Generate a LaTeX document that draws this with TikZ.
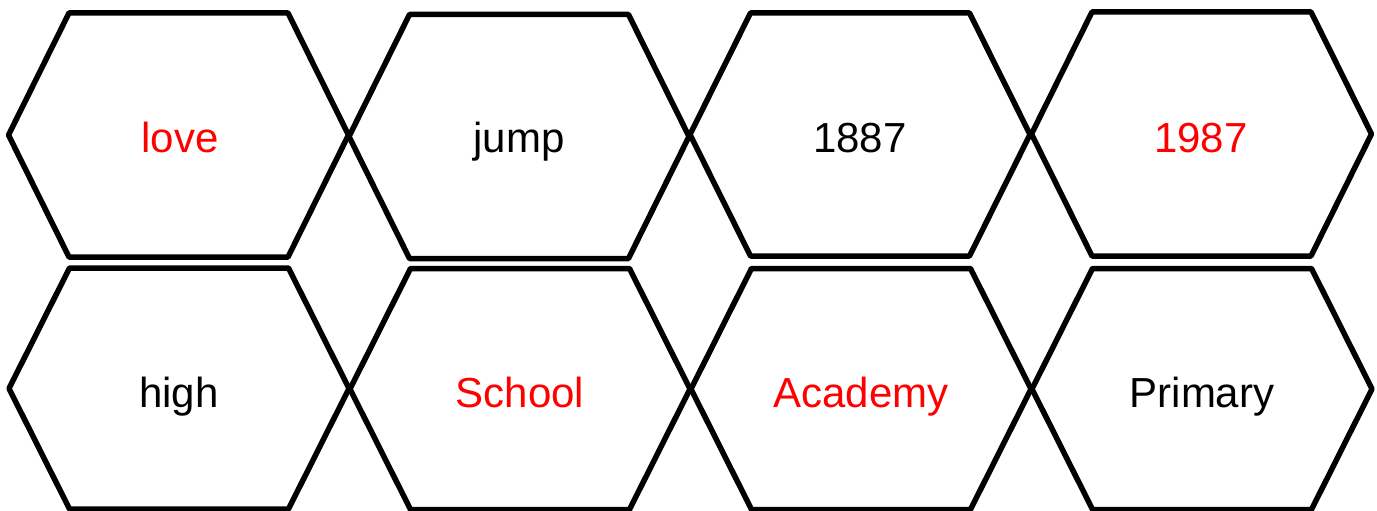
\documentclass[tikz,border=0pt]{standalone}
\usepackage{fontspec}
\setmainfont{Liberation Sans}
\begin{document}
\begin{tikzpicture}[x=1pt,y=-1pt,
  hexa/.style={draw=black,line width=5.5pt,line join=round},
  lbl/.style={font=\fontsize{42}{50}\selectfont,anchor=base,inner sep=0pt},
  hot/.style={text=red},
  cold/.style={text=black}]
\useasboundingbox (0,0) rectangle (1377,511);
\fill[white] (0,0) rectangle (1377,511);
% hexagons: cx/cy/half-height
\foreach \cx/\cy/\hh in {178.5/135/122, 519/136.5/122, 860/134.5/121.5, 1201.5/134/122,
                         179/388.5/120.5, 520/389/120.5, 861/389/120.5, 1202/389/120.5}{
  \draw[hexa] (\cx-170,\cy) -- (\cx-109.5,\cy-\hh) -- (\cx+109.5,\cy-\hh) -- (\cx+170,\cy)
     -- (\cx+109.5,\cy+\hh) -- (\cx-109.5,\cy+\hh) -- cycle;
}
\node[lbl,hot]  (t1) at (180,152) {love};
\node[lbl,cold] (t2) at (519,152) {jump};
\node[lbl,cold] (t3) at (860,152) {1887};
\node[lbl,hot]  (t4) at (1201,152) {1987};
\node[lbl,cold] (t5) at (179,407) {high};
\node[lbl,hot]  (t6) at (520,407) {School};
\node[lbl,hot]  (t7) at (861,407) {Academy};
\node[lbl,cold] (t8) at (1202,407) {Primary};
\end{tikzpicture}
\end{document}
